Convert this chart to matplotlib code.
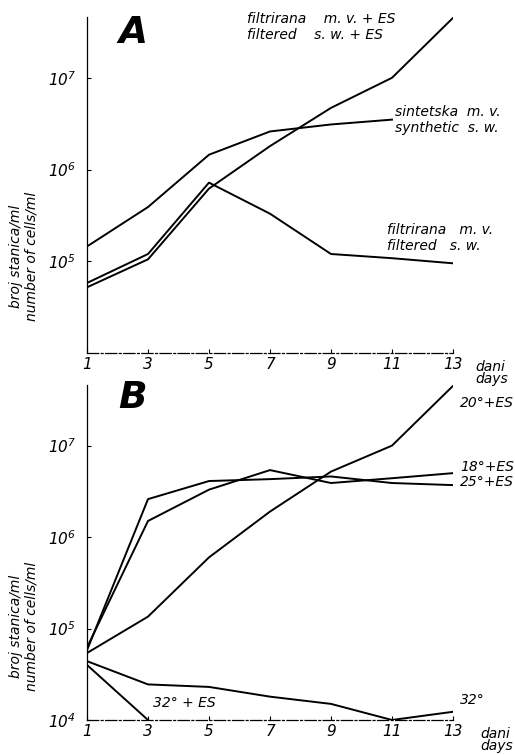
import matplotlib
matplotlib.use("Agg")
import matplotlib.pyplot as plt

plt.rcParams['font.family'] = ['DejaVu Sans']
plt.rcParams['font.style'] = 'italic'
plt.rcParams['mathtext.fontset'] = 'custom'
plt.rcParams['mathtext.rm'] = 'DejaVu Sans:italic'
plt.rcParams['mathtext.it'] = 'DejaVu Sans:italic'
plt.rcParams['mathtext.default'] = 'it'

days = [1, 3, 5, 7, 9, 11, 13]
day_ticks = ['1', '3', '5', '7', '9', '11', '13']

# panel A - cells/ml
a_filt_es = [5.2e4, 1.05e5, 6.2e5, 1.8e6, 4.7e6, 1.0e7, 4.5e7]
a_synth_days = [1, 3, 5, 7, 9, 11]
a_synth = [1.45e5, 3.9e5, 1.45e6, 2.6e6, 3.1e6, 3.5e6]
a_filt = [5.8e4, 1.2e5, 7.2e5, 3.3e5, 1.2e5, 1.08e5, 9.5e4]

# panel B - temperatures
b_20es = [5.4e4, 1.35e5, 6.0e5, 1.9e6, 5.2e6, 1.0e7, 4.5e7]
b_18es = [6.2e4, 1.5e6, 3.3e6, 5.4e6, 3.9e6, 4.4e6, 5.0e6]
b_25es = [5.8e4, 2.6e6, 4.1e6, 4.3e6, 4.6e6, 3.9e6, 3.7e6]
b_32 = [4.4e4, 2.45e4, 2.3e4, 1.8e4, 1.5e4, 1.0e4, 1.23e4]
b_32es_days = [1, 3]
b_32es = [4.0e4, 1.0e4]

yt_a = [1e5, 1e6, 1e7]
yt_a_lbl = ['$10^{5}$', '$10^{6}$', '$10^{7}$']
yt_b = [1e4, 1e5, 1e6, 1e7]
yt_b_lbl = ['$10^{4}$', '$10^{5}$', '$10^{6}$', '$10^{7}$']

W, H = 515, 755
fig = plt.figure(figsize=(W / 100, H / 100), dpi=100)

def px(x, y):
    return x / W, 1 - y / H

def setup(ax, yticks, ylabels):
    ax.set_yscale('log')
    ax.set_xlim(1, 13)
    ax.set_ylim(1e4, 4.6e7)
    for s in ['top', 'right']:
        ax.spines[s].set_visible(False)
    ax.spines['left'].set_linewidth(0.9)
    ax.spines['bottom'].set_linewidth(0.9)
    ax.spines['bottom'].set_linestyle((0, (9, 2, 1.5, 2)))
    ax.set_xticks(days)
    ax.set_xticklabels(day_ticks, fontsize=11)
    ax.set_yticks(yticks)
    ax.set_yticklabels(ylabels, fontsize=11)
    ax.yaxis.set_minor_locator(matplotlib.ticker.NullLocator())
    ax.tick_params(axis='both', direction='in', length=3, width=0.8, pad=8)
    ax.tick_params(axis='x', pad=3)
    ax.patch.set_alpha(0)

lw = 1.4
ax1 = fig.add_axes([87 / W, 1 - 353 / H, (453 - 87) / W, (353 - 17) / H])
setup(ax1, yt_a, yt_a_lbl)
ax1.plot(days, a_filt_es, color='k', lw=lw)
ax1.plot(a_synth_days, a_synth, color='k', lw=lw)
ax1.plot(days, a_filt, color='k', lw=lw)

ax2 = fig.add_axes([87 / W, 1 - 720 / H, (453 - 87) / W, (720 - 385) / H])
setup(ax2, yt_b, yt_b_lbl)
for ys in [b_20es, b_18es, b_25es, b_32]:
    ax2.plot(days, ys, color='k', lw=lw)
ax2.plot(b_32es_days, b_32es, color='k', lw=lw)

fs = 10
# panel letters
fig.text(*px(118, 33), 'A', fontsize=27, fontweight='bold', va='center')
fig.text(*px(118, 398), 'B', fontsize=27, fontweight='bold', va='center')

# labels panel A
fig.text(*px(247, 27), 'filtrirana    m. v. + ES\nfiltered    s. w. + ES', fontsize=fs, va='center', linespacing=1.1)
fig.text(*px(395, 120), 'sintetska  m. v.\nsynthetic  s. w.', fontsize=fs, va='center', linespacing=1.1)
fig.text(*px(387, 238), 'filtrirana   m. v.\nfiltered   s. w.', fontsize=fs, va='center', linespacing=1.1)
fig.text(*px(475, 373), 'dani\ndays', fontsize=fs, va='center', linespacing=0.9)

# labels panel B
fig.text(*px(460, 403), '20°+ES', fontsize=fs, va='center')
fig.text(*px(460, 467), '18°+ES', fontsize=fs, va='center')
fig.text(*px(460, 482), '25°+ES', fontsize=fs, va='center')
fig.text(*px(153, 703), '32° + ES', fontsize=fs, va='center')
fig.text(*px(460, 700), '32°', fontsize=fs, va='center')
fig.text(*px(480, 740), 'dani\ndays', fontsize=fs, va='center', linespacing=0.9)

# y labels
for yc in [256, 626]:
    fig.text(*px(24, yc), 'broj stanica/ml\nnumber of cells/ml', fontsize=fs, rotation=90,
             va='center', ha='center', linespacing=1.1)

fig.savefig('out.png', dpi=100)
